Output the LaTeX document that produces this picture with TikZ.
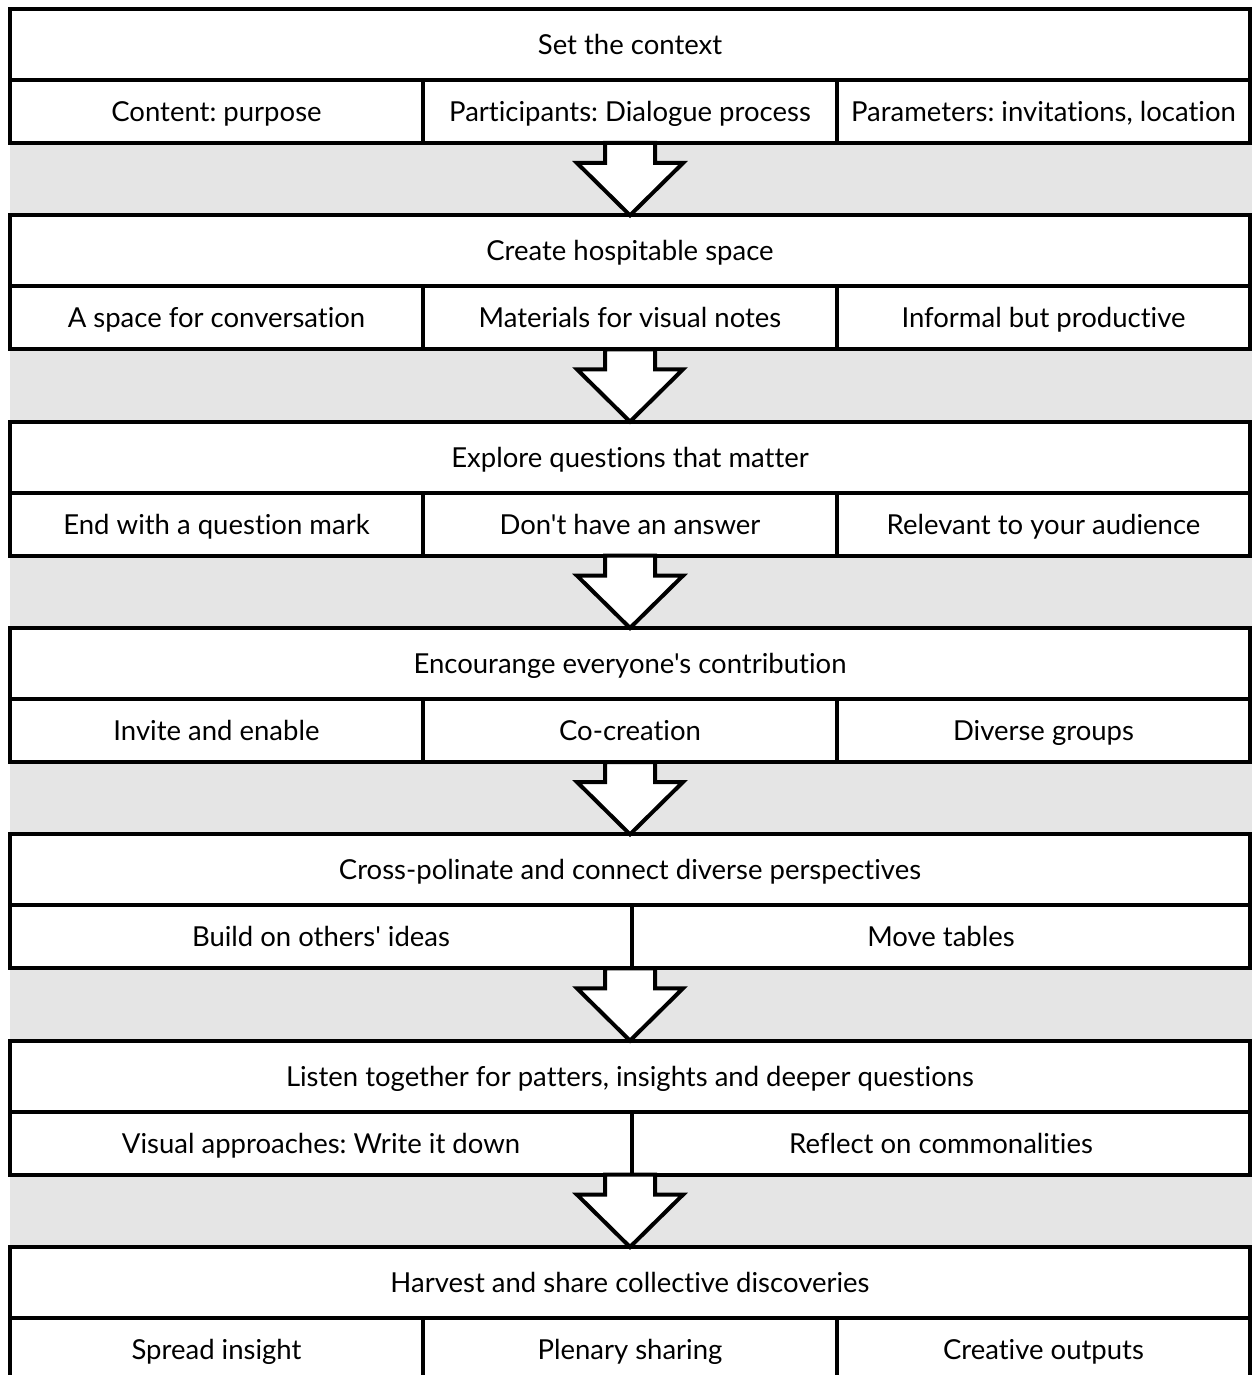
\documentclass[tikz,border=0pt]{standalone}
\usepackage{fontspec}
\newfontfamily\lf{Lato}[Ligatures=NoCommon]
\usetikzlibrary{calc}
\definecolor{bandgray}{HTML}{E5E5E5}
\frenchspacing
\tikzset{
  cell/.style={draw=black, line width=4pt, fill=white, inner sep=0pt, outer sep=0pt,
    font=\lf\fontsize{27.5}{32}\selectfont\frenchspacing, text height=19.7pt, text depth=0pt},
  blockarrow/.style={draw=black, fill=white, line width=4pt, line join=miter},
}
\begin{document}
\begin{tikzpicture}[x=1pt,y=-1pt]
\useasboundingbox (0,0) rectangle (1252,1375);
\fill[bandgray] (10,9) rectangle (1252,1375);
% block tops
\def\Ta{9}\def\Tb{215.33}\def\Tc{421.67}\def\Td{628}\def\Te{834.33}\def\Tf{1040.67}\def\Tg{1247}
% ---- block 1
\node[cell, minimum width=1240, minimum height=71] (t1) at (630,\Ta+35.5) {Set the context};
\node[cell, minimum width=413, minimum height=63] (s1a) at (216.5,\Ta+102.5) {Content: purpose};
\node[cell, minimum width=414, minimum height=63] (s1b) at (630,\Ta+102.5) {Participants: Dialogue process};
\node[cell, minimum width=413, minimum height=63] (s1c) at (1043.5,\Ta+102.5) {Parameters: invitations, location};
% ---- block 2
\node[cell, minimum width=1240, minimum height=71] (t2) at (630,\Tb+35.5) {Create hospitable space};
\node[cell, minimum width=413, minimum height=63] (s2a) at (216.5,\Tb+102.5) {A space for conversation};
\node[cell, minimum width=414, minimum height=63] (s2b) at (630,\Tb+102.5) {Materials for visual notes};
\node[cell, minimum width=413, minimum height=63] (s2c) at (1043.5,\Tb+102.5) {Informal but productive};
% ---- block 3
\node[cell, minimum width=1240, minimum height=71] (t3) at (630,\Tc+35.5) {Explore questions that matter};
\node[cell, minimum width=413, minimum height=63] (s3a) at (216.5,\Tc+102.5) {End with a question mark};
\node[cell, minimum width=414, minimum height=63] (s3b) at (630,\Tc+102.5) {Don't have an answer};
\node[cell, minimum width=413, minimum height=63] (s3c) at (1043.5,\Tc+102.5) {Relevant to your audience};
% ---- block 4
\node[cell, minimum width=1240, minimum height=71] (t4) at (630,\Td+35.5) {Encourange everyone's contribution};
\node[cell, minimum width=413, minimum height=63] (s4a) at (216.5,\Td+102.5) {Invite and enable};
\node[cell, minimum width=414, minimum height=63] (s4b) at (630,\Td+102.5) {Co-creation};
\node[cell, minimum width=413, minimum height=63] (s4c) at (1043.5,\Td+102.5) {Diverse groups};
% ---- block 5
\node[cell, minimum width=1240, minimum height=71] (t5) at (630,\Te+35.5) {Cross-polinate and connect diverse perspectives};
\node[cell, minimum width=622, minimum height=63] (s5a) at (321,\Te+102.5) {Build on others' ideas};
\node[cell, minimum width=618, minimum height=63] (s5b) at (941,\Te+102.5) {Move tables};
% ---- block 6
\node[cell, minimum width=1240, minimum height=71] (t6) at (630,\Tf+35.5) {Listen together for patters, insights and deeper questions};
\node[cell, minimum width=622, minimum height=63] (s6a) at (321,\Tf+102.5) {Visual approaches: Write it down};
\node[cell, minimum width=618, minimum height=63] (s6b) at (941,\Tf+102.5) {Reflect on commonalities};
% ---- block 7
\node[cell, minimum width=1240, minimum height=71] (t7) at (630,\Tg+35.5) {Harvest and share collective discoveries};
\node[cell, minimum width=413, minimum height=63] (s7a) at (216.5,\Tg+102.5) {Spread insight};
\node[cell, minimum width=414, minimum height=63] (s7b) at (630,\Tg+102.5) {Plenary sharing};
\node[cell, minimum width=413, minimum height=63] (s7c) at (1043.5,\Tg+102.5) {Creative outputs};
% ---- arrows between blocks
\foreach \a/\b in {s1b/t2, s2b/t3, s3b/t4, s4b/t5, s5a/t6, s6a/t7}{
  \coordinate (bot) at (t2.center |- \a.south);
  \draw[blockarrow] ($(bot)+(-25,0)$) -- ++(0,20) -- ++(-28,0) -- (\b.north)
     -- ($(bot)+(53,20)$) -- ++(-28,0) -- ++(0,-20) -- cycle;
}
\end{tikzpicture}
\end{document}
